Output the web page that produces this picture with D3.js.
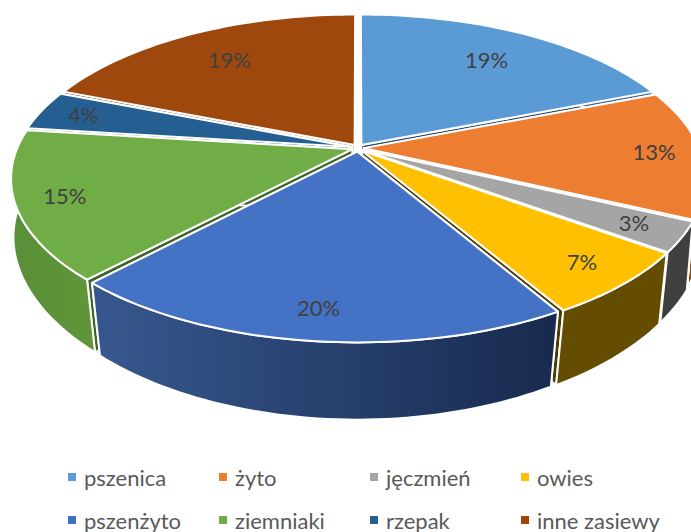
<!DOCTYPE html>
<html>
<head>
<meta charset="utf-8">
<script src="https://cdnjs.cloudflare.com/ajax/libs/d3/7.8.5/d3.min.js"></script>
<style>
  html, body { margin: 0; padding: 0; background: #fff; overflow: hidden; }
  text { font-family: Lato, "Open Sans", sans-serif; fill: #404040; }
</style>
</head>
<body>
<div id="chart"></div>
<script>
// Chart data, shares, labels show them rounded
const categories = ["pszenica", "żyto", "jęczmień", "owies", "pszenżyto", "ziemniaki", "rzepak", "inne zasiewy"];
const shares = [19, 13, 3, 6.6, 20.4, 15, 4, 19];
const topColors = ["#5b9bd5", "#ed7d31", "#a5a5a5", "#ffc000", "#4472c4", "#70ad47", "#255e91", "#9e480e"];
const wallLeftColors = ["#3d6a93", "#8a4a1e", "#404040", "#644c00", "#37588f", "#5a8f38", "#1c466c", "#6e330a"];
const wallRightColors = ["#3d6a93", "#8a4a1e", "#404040", "#644c00", "#182a4e", "#609539", "#1c466c", "#6e330a"];
const cutColors = ["#2e4f6e", "#70401a", "#333333", "#4e3b00", "#22355c", "#3f6628", "#153552", "#5a2a08"];

const width = 691, height = 532;

// Plane to screen projection, the back of the pie is compressed
const cx = 358, cy = 148;
const rx = 335, ry = 155;
const tilt = 0.18;
const depth = 63;
const explode = 0.018;

function project(u, v, down) {
    const s = 1 / (1 - tilt * v);
    const shrink = down ? 1 - 0.04 * v : 1;
    return [
        cx + rx * u * s * shrink,
        cy + ry * v * s + (down ? depth * s : 0)
    ];
}

const svg = d3.select("#chart").append("svg")
    .attr("width", width)
    .attr("height", height);
const defs = svg.append("defs");

const pie = d3.pie().sort(null).value(function (d) { return d; });
const slices = pie(shares).map(function (d, i) {
    const mid = (d.startAngle + d.endAngle) / 2;
    return {
        i: i,
        start: d.startAngle,
        end: d.endAngle,
        mid: mid,
        du: explode * Math.sin(mid),
        dv: -explode * Math.cos(mid) * 1.3,
        value: d.value
    };
});

const line = d3.line();

function rim(s, down) {
    const n = Math.max(8, Math.round((s.end - s.start) * 40));
    return d3.range(n + 1).map(function (k) {
        const a = s.start + (s.end - s.start) * k / n;
        return project(Math.sin(a) + s.du, -Math.cos(a) + s.dv, down);
    });
}

slices.forEach(function (s) {
    const g = defs.append("linearGradient").attr("id", "wall" + s.i);
    g.append("stop").attr("offset", "0%").attr("stop-color", wallLeftColors[s.i]);
    g.append("stop").attr("offset", "100%").attr("stop-color", wallRightColors[s.i]);
});

// Paint from the back of the pie to the front
const ordered = slices.slice().sort(function (a, b) {
    return -Math.cos(a.mid) - -Math.cos(b.mid);
});

const pieGroup = svg.append("g")
    .attr("stroke", "#fff")
    .attr("stroke-width", 2)
    .attr("stroke-linejoin", "round");

ordered.forEach(function (s) {
    const g = pieGroup.append("g");
    const top = rim(s, false);
    const bottom = rim(s, true);
    const apex = project(s.du, s.dv, false);
    const apexDown = project(s.du, s.dv, true);

    // cut faces
    g.append("path")
        .attr("fill", cutColors[s.i])
        .attr("d", line([apex, top[0], bottom[0], apexDown]) + "Z");
    g.append("path")
        .attr("fill", cutColors[s.i])
        .attr("d", line([apex, top[top.length - 1], bottom[bottom.length - 1], apexDown]) + "Z");

    // outer wall
    g.append("path")
        .attr("fill", "url(#wall" + s.i + ")")
        .attr("d", line(top.concat(bottom.slice().reverse())) + "Z");

    // top face
    g.append("path")
        .attr("fill", topColors[s.i])
        .attr("d", line([apex].concat(top)) + "Z");
});

// Percentage labels
slices.forEach(function (s) {
    const u = Math.sin(s.mid), v = -Math.cos(s.mid);
    const f = 0.88 - 0.12 * Math.max(0, -v - 0.3) / 0.53;
    const p = project(u * f, v * f, false);
    svg.append("text")
        .attr("x", p[0])
        .attr("y", p[1] - 1)
        .attr("text-anchor", "middle")
        .attr("dominant-baseline", "central")
        .style("font-size", "22px")
        .text(Math.round(s.value) + "%");
});

// Legend
const columns = d3.scalePoint().domain(d3.range(4)).range([68, 521]);
const rows = d3.scalePoint().domain(d3.range(2)).range([477, 520]);

const legend = svg.append("g").selectAll("g")
    .data(categories)
    .enter().append("g")
    .attr("transform", function (d, i) {
        return "translate(" + columns(i % 4) + "," + rows(Math.floor(i / 4)) + ")";
    });

legend.append("rect")
    .attr("x", 0)
    .attr("y", -4)
    .attr("width", 8)
    .attr("height", 8)
    .attr("fill", function (d, i) { return topColors[i]; });

legend.append("text")
    .attr("x", 16)
    .attr("y", 0)
    .attr("dominant-baseline", "central")
    .style("font-size", "22px")
    .style("fill", "#595959")
    .text(function (d) { return d; });
</script>
</body>
</html>
